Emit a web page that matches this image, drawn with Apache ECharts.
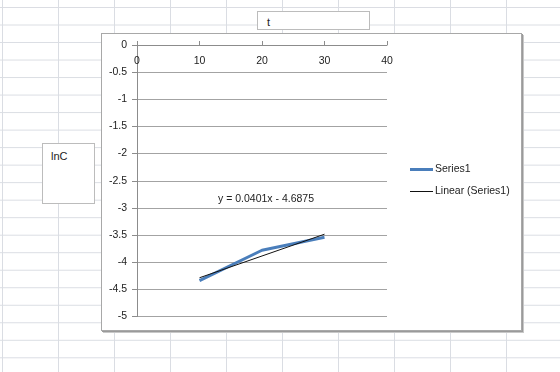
<!DOCTYPE html>
<html>
<head>
<meta charset="utf-8">
<script src="https://cdn.jsdelivr.net/npm/echarts@6/dist/echarts.min.js"></script>
<style>
  html, body {
    margin: 0;
    padding: 0;
    width: 560px;
    height: 372px;
    overflow: hidden;
    font-family: 'Liberation Sans', Arial, sans-serif;
    background-color: #fff;
    /* spreadsheet cells behind the chart */
    background-image:
      linear-gradient(to right, #dadde3 1px, transparent 1px),
      linear-gradient(to bottom, #dadde3 1px, transparent 1px);
    background-size: 56px 100%, 100% 17.52px;
    background-position: 2px 0, 0 7px;
  }
  .chart-box {
    position: absolute;
    left: 101px;
    top: 33px;
    width: 419px;
    height: 296px;
    background: #fff;
    border: 1px solid #a8a8a8;
    box-shadow: 1px 1px 0 #9a9a9a, 2px 2px 0 #c8c8c8;
  }
  .text-box {
    position: absolute;
    background: #fff;
    border: 1px solid #bcbcbc;
    font-size: 11px;
    color: #222;
    box-sizing: border-box;
  }
  #chart {
    position: absolute;
    left: 0;
    top: 0;
    width: 560px;
    height: 372px;
  }
</style>
</head>
<body>
<div class="chart-box"></div>
<div class="text-box" style="left: 257px; top: 11px; width: 113px; height: 19px; padding: 4px 0 0 9px;">t</div>
<div class="text-box" style="left: 42px; top: 143px; width: 53px; height: 61px; padding: 6px 0 0 8px;">lnC</div>
<div id="chart"></div>
<script>
// 数据
const xValues = [10, 20, 30];
const seriesValues = [-4.34, -3.78, -3.54];
// 趋势线端点 (y = 0.0401x - 4.6875)
const trendX = [10, 30];
const trendY = [-4.2865, -3.4845];
const trendLabel = 'y = 0.0401x - 4.6875';
const seriesNames = ['Series1', 'Linear (Series1)'];

const textColor = '#222';
const fontFamily = 'Liberation Sans, Arial, sans-serif';

const chart = echarts.init(document.getElementById('chart'), null, { renderer: 'canvas' });

// 图例文字样式
const legendText = {
  fontSize: 10.5,
  color: textColor,
  fontFamily: fontFamily,
  padding: [0, 0, 0, -3],
};

chart.setOption({
  animation: false,
  backgroundColor: 'transparent',
  textStyle: {
    fontFamily: fontFamily,
    color: textColor,
  },
  grid: {
    left: 137,
    top: 45,
    width: 250,
    height: 271.5,
    containLabel: false,
  },
  xAxis: {
    type: 'value',
    position: 'top',
    min: 0,
    max: 40,
    interval: 10,
    axisLine: {
      onZero: false,
      lineStyle: { color: '#8c8c8c', width: 1 },
    },
    axisTick: {
      show: true,
      length: 4,
      lineStyle: { color: '#8c8c8c' },
    },
    axisLabel: {
      inside: true,
      margin: 11,
      fontSize: 10.5,
      color: textColor,
      fontFamily: fontFamily,
    },
    splitLine: { show: false },
  },
  yAxis: {
    type: 'value',
    min: -5,
    max: 0,
    interval: 0.5,
    axisLine: {
      show: true,
      onZero: false,
      lineStyle: { color: '#8c8c8c', width: 1 },
    },
    axisTick: {
      show: true,
      length: 5,
      lineStyle: { color: '#8c8c8c' },
    },
    axisLabel: {
      margin: 10,
      fontSize: 10.5,
      color: textColor,
      fontFamily: fontFamily,
    },
    splitLine: {
      show: true,
      lineStyle: { color: '#a3a3a3', width: 1 },
    },
  },
  legend: [
    {
      left: 410,
      top: 164,
      padding: 0,
      orient: 'vertical',
      itemWidth: 23,
      itemHeight: 3,
      icon: 'rect',
      data: [seriesNames[0]],
      textStyle: legendText,
    },
    {
      left: 410,
      top: 186,
      padding: 0,
      orient: 'vertical',
      itemWidth: 23,
      itemHeight: 1,
      icon: 'rect',
      data: [seriesNames[1]],
      textStyle: legendText,
    },
  ],
  graphic: [
    {
      type: 'text',
      left: 218,
      top: 194,
      style: {
        text: trendLabel,
        fontSize: 10.5,
        fontFamily: fontFamily,
        fill: textColor,
      },
    },
  ],
  series: [
    {
      name: seriesNames[0],
      type: 'line',
      data: xValues.map((x, i) => [x, seriesValues[i]]),
      showSymbol: false,
      symbol: 'none',
      color: '#4a7ebb',
      lineStyle: { color: '#4a7ebb', width: 3 },
    },
    {
      name: seriesNames[1],
      type: 'line',
      data: trendX.map((x, i) => [x, trendY[i]]),
      showSymbol: false,
      symbol: 'none',
      color: '#111',
      lineStyle: { color: '#111', width: 1 },
    },
  ],
});
</script>
</body>
</html>
